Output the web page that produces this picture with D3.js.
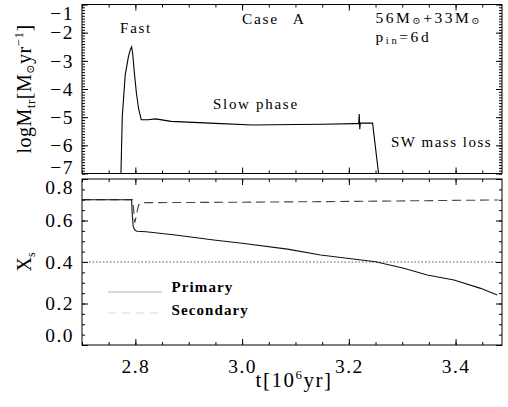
<!DOCTYPE html>
<html>
<head>
<meta charset="utf-8">
<script src="https://cdn.jsdelivr.net/npm/d3@7"></script>
<style>
  html, body { margin: 0; padding: 0; background: #fff; }
  svg { display: block; }
  text { font-family: "Liberation Serif", "DejaVu Serif", serif; fill: #000; }
</style>
</head>
<body>
<svg id="chart" width="508" height="407"></svg>
<script>
// ---------------- data ----------------
const xMajorTicks = [2.8, 3.0, 3.2, 3.4];
const topYTicks = [-1, -2, -3, -4, -5, -6, -7];
const botYTicks = [0.0, 0.2, 0.4, 0.6, 0.8];

// top panel: log mass-transfer rate
const tTop   = [2.7725, 2.7755, 2.781, 2.787, 2.7905, 2.793, 2.795, 2.798, 2.802, 2.806, 2.811,
                2.824, 2.838, 2.867, 2.95, 3.02, 3.10, 3.15, 3.2115, 3.2185, 3.2195, 3.2205,
                3.2215, 3.226, 3.2445, 3.2557, 3.257];
const logMtr = [-7.4, -4.97, -3.5, -2.85, -2.6, -2.5, -2.75, -3.4, -4.15, -4.7, -5.09,
                -5.09, -5.06, -5.15, -5.22, -5.28, -5.26, -5.25, -5.23, -5.23, -4.89, -5.43,
                -5.21, -5.21, -5.21, -7.0, -7.4];

// bottom panel: surface hydrogen abundance
const tPrimary = [2.70, 2.793, 2.794, 2.796, 2.799, 2.803, 2.82, 2.875, 2.947, 3.0, 3.085,
                  3.147, 3.25, 3.303, 3.347, 3.397, 3.447, 3.478];
const xPrimary = [0.70, 0.70, 0.635, 0.57, 0.554, 0.548, 0.546, 0.530, 0.506, 0.49, 0.462,
                  0.434, 0.401, 0.37, 0.337, 0.313, 0.273, 0.241];
const tSecondary = [2.70, 2.795, 2.799, 2.806, 2.812, 3.0, 3.2, 3.48];
const xSecondary = [0.70, 0.70, 0.59, 0.675, 0.686, 0.688, 0.692, 0.699];

const thresholdX = 0.4;
const legendLabels = ["Primary", "Secondary"];

// ---------------- layout ----------------
const svg = d3.select("#chart");
svg.append("rect").attr("width", 508).attr("height", 407).attr("fill", "#fff");

const L = 82, R = 502;
const topP = {y0: 4.5, y1: 173.5};
const botP = {y0: 179, y1: 345};

const x = d3.scaleLinear().domain([2.7, 3.487]).range([L, R]);
const yTop = d3.scaleLinear().domain([-7, -1]).range([topP.y1, topP.y0]);
const yBot = d3.scaleLinear().domain([0, 0.8]).range([botP.y1, botP.y0]);

const xMinor = d3.range(2.70, 3.4871, 0.05).map(v => +v.toFixed(2));
const topMinor = d3.range(-7, -0.999, 0.1).map(v => +v.toFixed(1));
const botMinor = d3.range(0, 0.8001, 0.05).map(v => +v.toFixed(2));

const fmt1 = d3.format(".1f");
const fmtInt = d3.format("d");

function cleanAxis(g) {
  g.select(".domain").remove();
  g.selectAll("line").attr("stroke", "#000").attr("stroke-width", 1);
  g.attr("font-family", null).attr("font-size", null);
}

function drawFrame(p, yScale, yMajor, yMinor, yFmt, showX) {
  // minor ticks
  svg.append("g").attr("transform", `translate(0,${p.y1})`)
    .call(d3.axisBottom(x).tickValues(xMinor).tickSize(-3).tickFormat(""))
    .call(cleanAxis);
  svg.append("g").attr("transform", `translate(0,${p.y0})`)
    .call(d3.axisTop(x).tickValues(xMinor).tickSize(-3).tickFormat(""))
    .call(cleanAxis);
  svg.append("g").attr("transform", `translate(${L},0)`)
    .call(d3.axisLeft(yScale).tickValues(yMinor).tickSize(-3).tickFormat(""))
    .call(cleanAxis);
  svg.append("g").attr("transform", `translate(${R},0)`)
    .call(d3.axisRight(yScale).tickValues(yMinor).tickSize(-3).tickFormat(""))
    .call(cleanAxis);
  // major ticks
  const bx = svg.append("g").attr("transform", `translate(0,${p.y1})`)
    .call(d3.axisBottom(x).tickValues(xMajorTicks).tickSize(-6).tickPadding(14)
      .tickFormat(showX ? fmt1 : ""))
    .call(cleanAxis);
  bx.selectAll("text").attr("font-size", "19.5px").attr("letter-spacing", "1.5px");
  svg.append("g").attr("transform", `translate(0,${p.y0})`)
    .call(d3.axisTop(x).tickValues(xMajorTicks).tickSize(-6).tickFormat(""))
    .call(cleanAxis);
  const ly = svg.append("g").attr("transform", `translate(${L},0)`)
    .call(d3.axisLeft(yScale).tickValues(yMajor).tickSize(-6).tickPadding(8).tickFormat(yFmt))
    .call(cleanAxis);
  ly.selectAll("text").attr("font-size", "19.5px").attr("letter-spacing", "1.5px");
  svg.append("g").attr("transform", `translate(${R},0)`)
    .call(d3.axisRight(yScale).tickValues(yMajor).tickSize(-6).tickFormat(""))
    .call(cleanAxis);
  // frame
  svg.append("rect").attr("x", L).attr("y", p.y0).attr("width", R - L).attr("height", p.y1 - p.y0)
    .attr("fill", "none").attr("stroke", "#000").attr("stroke-width", 1);
  return ly;
}

const lyTop = drawFrame(topP, yTop, topYTicks, topMinor, fmtInt, false);
const lyBot = drawFrame(botP, yBot, botYTicks, botMinor, fmt1, true);

// shift extreme labels inward, as in the reference
lyTop.selectAll(".tick text").attr("dy", d => d === -1 ? "0.75em" : d === -7 ? "0.02em" : "0.32em");
lyBot.selectAll(".tick text").attr("dy", d => d === 0.8 ? "0.72em" : d === 0 ? "-0.2em" : "0.32em");

// clip paths
const defs = svg.append("defs");
defs.append("clipPath").attr("id", "clipTop").append("rect")
  .attr("x", L).attr("y", topP.y0).attr("width", R - L).attr("height", topP.y1 - topP.y0);
defs.append("clipPath").attr("id", "clipBot").append("rect")
  .attr("x", L).attr("y", botP.y0).attr("width", R - L).attr("height", botP.y1 - botP.y0);

// ---------------- top panel line ----------------
const topData = tTop.map((t, i) => [t, logMtr[i]]);
svg.append("path").datum(topData)
  .attr("clip-path", "url(#clipTop)")
  .attr("d", d3.line().x(d => x(d[0])).y(d => yTop(d[1])))
  .attr("fill", "none").attr("stroke", "#000").attr("stroke-width", 1.1);

// ---------------- bottom panel ----------------
svg.append("line")
  .attr("x1", L).attr("x2", R).attr("y1", yBot(thresholdX)).attr("y2", yBot(thresholdX))
  .attr("stroke", "#555").attr("stroke-width", 1).attr("stroke-dasharray", "1.5,2");

const secData = tSecondary.map((t, i) => [t, xSecondary[i]]);
svg.append("path").datum(secData)
  .attr("clip-path", "url(#clipBot)")
  .attr("d", d3.line().x(d => x(d[0])).y(d => yBot(d[1])))
  .attr("fill", "none").attr("stroke", "#444").attr("stroke-width", 1.1)
  .attr("stroke-dasharray", "9,5");

const priData = tPrimary.map((t, i) => [t, xPrimary[i]]);
svg.append("path").datum(priData)
  .attr("clip-path", "url(#clipBot)")
  .attr("d", d3.line().x(d => x(d[0])).y(d => yBot(d[1])))
  .attr("fill", "none").attr("stroke", "#111").attr("stroke-width", 1.1);

// legend
const legY = [292, 313];
const legStyles = [{c: "#b0b0b0", dash: null}, {c: "#d8d8d8", dash: "8,6"}];
legendLabels.forEach((lab, i) => {
  const ln = svg.append("line").attr("x1", 108).attr("x2", 162)
    .attr("y1", legY[i]).attr("y2", legY[i])
    .attr("stroke", legStyles[i].c).attr("stroke-width", 1);
  if (legStyles[i].dash) ln.attr("stroke-dasharray", legStyles[i].dash);
  svg.append("text").attr("x", 171.5).attr("y", legY[i] + (i === 0 ? 0 : 2))
    .attr("font-size", "15px").attr("font-weight", "bold").attr("letter-spacing", "1.1px").text(lab);
});

// ---------------- annotations ----------------
svg.append("text").attr("x", 136).attr("y", 33).attr("text-anchor", "middle")
  .attr("font-size", "15px").attr("letter-spacing", "1.7px").text("Fast");
svg.append("text").attr("x", 242).attr("y", 24)
  .attr("font-size", "15.5px").attr("letter-spacing", "1.7px").attr("word-spacing", "9px").text("Case A");
svg.append("text").attr("x", 213).attr("y", 109)
  .attr("font-size", "15px").attr("letter-spacing", "1.7px").text("Slow phase");
svg.append("text").attr("x", 391).attr("y", 146.5)
  .attr("font-size", "15px").attr("letter-spacing", "1.5px").text("SW mass loss");

const m1 = svg.append("text").attr("x", 375.5).attr("y", 23).attr("font-size", "15.5px")
  .attr("letter-spacing", "2.5px");
m1.append("tspan").text("56M");
m1.append("tspan").attr("font-size", "10px").attr("dy", 1).text("⊙");
m1.append("tspan").attr("dy", -1).text("+33M");
m1.append("tspan").attr("font-size", "10px").attr("dy", 1).text("⊙");

const p1 = svg.append("text").attr("x", 375.5).attr("y", 41.5).attr("font-size", "15.5px")
  .attr("letter-spacing", "2.6px");
p1.append("tspan").text("p");
p1.append("tspan").attr("font-size", "10.5px").attr("dy", 2).text("in");
p1.append("tspan").attr("dy", -2).text("=6d");

// ---------------- axis titles ----------------
const xt = svg.append("text").attr("x", 294).attr("y", 387).attr("text-anchor", "middle")
  .attr("font-size", "21px").attr("letter-spacing", "1.5px");
xt.append("tspan").text("t[10");
xt.append("tspan").attr("font-size", "13px").attr("dy", -8).text("6");
xt.append("tspan").attr("dy", 8).text("yr]");

const yt1 = svg.append("text")
  .attr("transform", `translate(31,${(topP.y0 + topP.y1) / 2}) rotate(-90)`)
  .attr("text-anchor", "middle").attr("font-size", "20px").attr("letter-spacing", "0.5px");
yt1.append("tspan").text("logM");
yt1.append("tspan").attr("font-size", "13px").attr("dy", 4).text("tr");
yt1.append("tspan").attr("dy", -4).text("[M");
yt1.append("tspan").attr("font-size", "11px").attr("dy", 3).text("⊙");
yt1.append("tspan").attr("dy", -3).text("yr");
yt1.append("tspan").attr("font-size", "13px").attr("dy", -8).text("−1");
yt1.append("tspan").attr("dy", 8).text("]");

const yt2 = svg.append("text")
  .attr("transform", `translate(31,${(botP.y0 + botP.y1) / 2}) rotate(-90)`)
  .attr("text-anchor", "middle").attr("font-size", "20px");
yt2.append("tspan").text("X");
yt2.append("tspan").attr("font-size", "12px").attr("dy", 4).text("s");
</script>
</body>
</html>
